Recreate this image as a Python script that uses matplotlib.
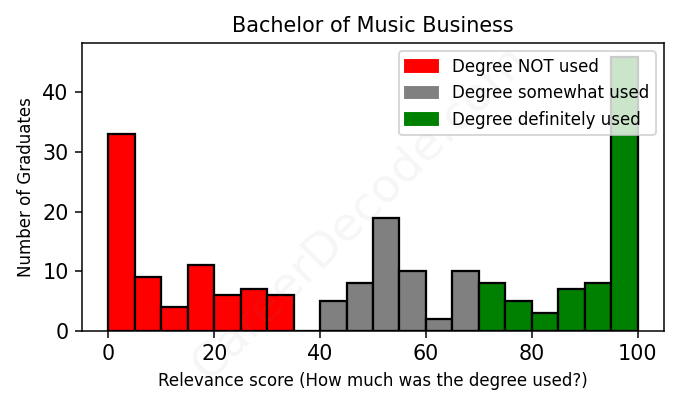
import matplotlib
matplotlib.use("Agg")
import matplotlib.pyplot as plt
from matplotlib.patches import Patch
import numpy as np

bin_edges = np.arange(0, 100, 5)
not_used = [33, 9, 4, 11, 6, 7, 6, 0]
somewhat_used = [5, 8, 19, 10, 2, 10]
definitely_used = [8, 5, 3, 7, 8, 46]
labels = ['Degree NOT used', 'Degree somewhat used', 'Degree definitely used']
colors = ['red', 'gray', 'green']

fig = plt.figure(figsize=(678 / 136, 3), dpi=136)
ax = fig.add_axes([82 / 678, 1 - 331 / 408, (664 - 82) / 678, (331 - 43) / 408])

ax.bar(bin_edges[:8], not_used, width=5, align='edge', color=colors[0],
       edgecolor='black', linewidth=1.2)
ax.bar(bin_edges[8:14], somewhat_used, width=5, align='edge', color=colors[1],
       edgecolor='black', linewidth=1.2)
ax.bar(bin_edges[14:], definitely_used, width=5, align='edge', color=colors[2],
       edgecolor='black', linewidth=1.2)

ax.set_xlim(-5, 105)
ax.set_title('Bachelor of Music Business', fontsize=11)
ax.set_xlabel('Relevance score (How much was the degree used?)', fontsize=8.8)
ax.set_ylabel('Number of Graduates', fontsize=8.8)
ax.tick_params(labelsize=11)
handles = [Patch(color=c, label=l) for c, l in zip(colors, labels)]
ax.legend(handles=handles, loc='upper right', fontsize=8.8)

# faint watermark
fig.text(0.53, 0.48, 'CareerDecode.com', fontsize=25, color='gray', alpha=0.07,
         rotation=45, ha='center', va='center')

fig.savefig('out.png', dpi=136)
